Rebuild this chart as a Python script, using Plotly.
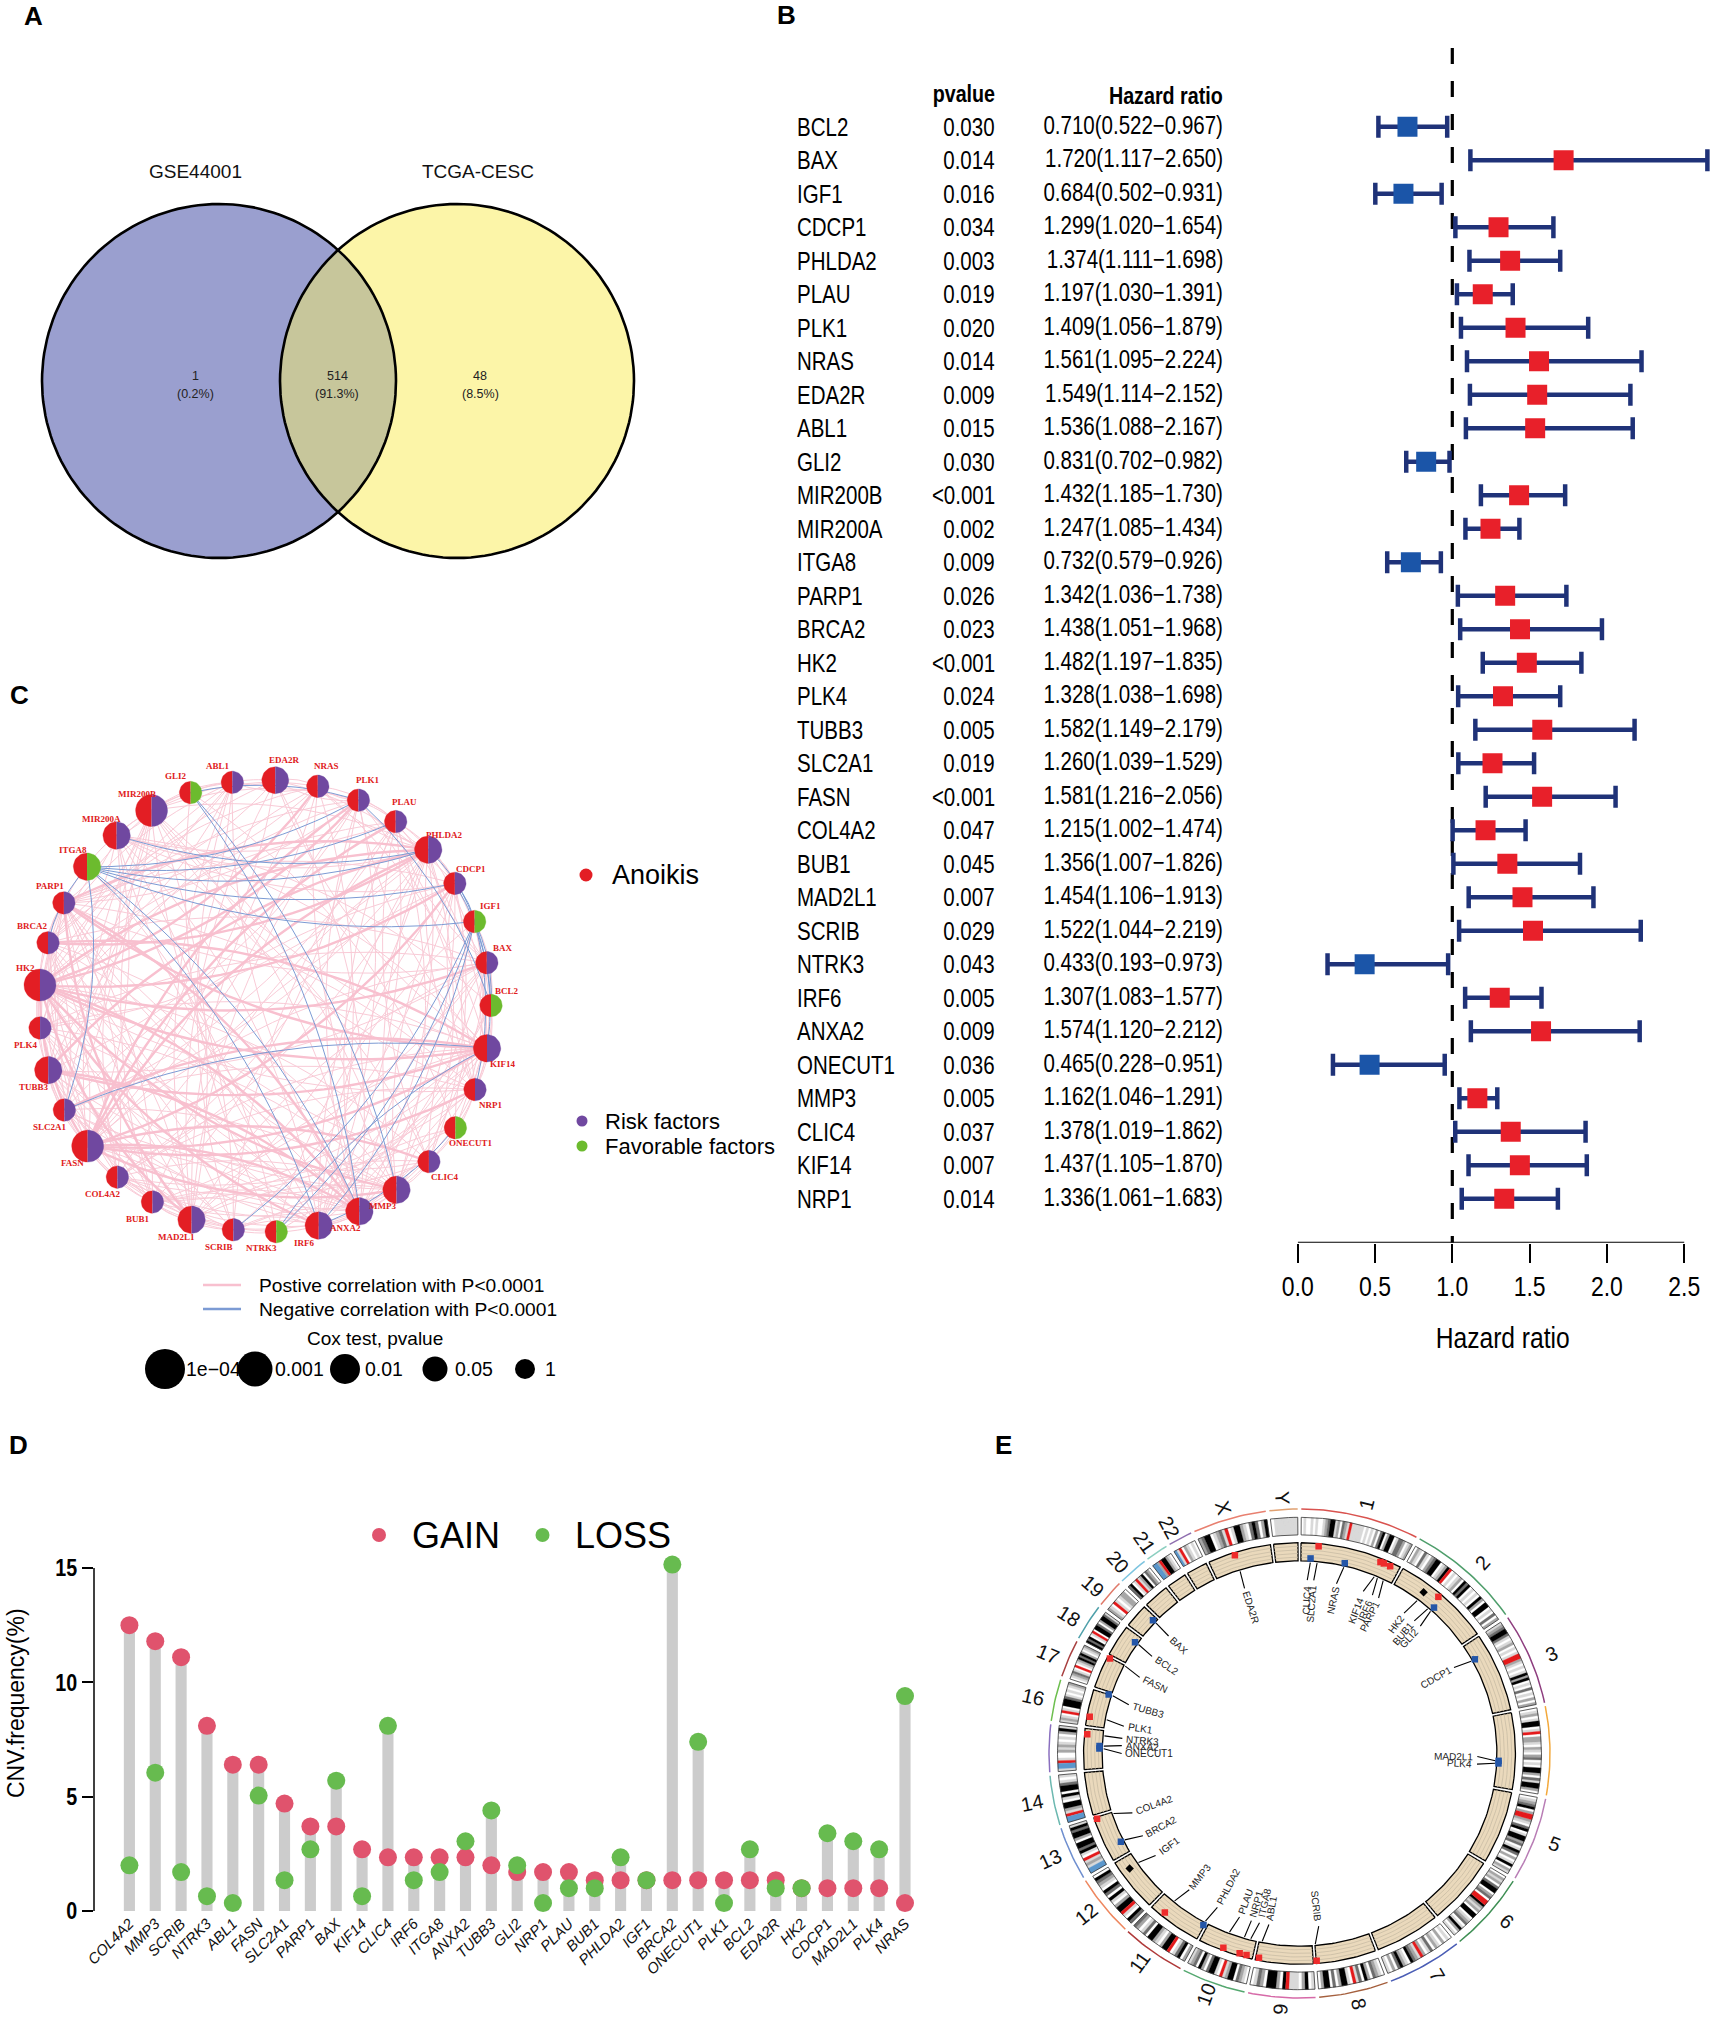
import math
import plotly.graph_objects as go

W, H = 1713, 2018
SANS = "Liberation Sans"
SERIF = "Liberation Serif"

# ---------- Panel A data
VENN_SETS = ["GSE44001", "TCGA-CESC"]
VENN_COUNTS = ["1", "514", "48"]
VENN_PCTS = ["(0.2%)", "(91.3%)", "(8.5%)"]

# ---------- Panel B data
COX_GENES = ["BCL2","BAX","IGF1","CDCP1","PHLDA2","PLAU","PLK1","NRAS","EDA2R","ABL1","GLI2","MIR200B","MIR200A","ITGA8","PARP1","BRCA2","HK2","PLK4","TUBB3","SLC2A1","FASN","COL4A2","BUB1","MAD2L1","SCRIB","NTRK3","IRF6","ANXA2","ONECUT1","MMP3","CLIC4","KIF14","NRP1"]
COX_P = ["0.030","0.014","0.016","0.034","0.003","0.019","0.020","0.014","0.009","0.015","0.030","<0.001","0.002","0.009","0.026","0.023","<0.001","0.024","0.005","0.019","<0.001","0.047","0.045","0.007","0.029","0.043","0.005","0.009","0.036","0.005","0.037","0.007","0.014"]
COX_HR = [0.710,1.720,0.684,1.299,1.374,1.197,1.409,1.561,1.549,1.536,0.831,1.432,1.247,0.732,1.342,1.438,1.482,1.328,1.582,1.260,1.581,1.215,1.356,1.454,1.522,0.433,1.307,1.574,0.465,1.162,1.378,1.437,1.336]
COX_LOW = [0.522,1.117,0.502,1.020,1.111,1.030,1.056,1.095,1.114,1.088,0.702,1.185,1.085,0.579,1.036,1.051,1.197,1.038,1.149,1.039,1.216,1.002,1.007,1.106,1.044,0.193,1.083,1.120,0.228,1.046,1.019,1.105,1.061]
COX_HIGH = [0.967,2.650,0.931,1.654,1.698,1.391,1.879,2.224,2.152,2.167,0.982,1.730,1.434,0.926,1.738,1.968,1.835,1.698,2.179,1.529,2.056,1.474,1.826,1.913,2.219,0.973,1.577,2.212,0.951,1.291,1.862,1.870,1.683]
HR_TICKS = [0.0, 0.5, 1.0, 1.5, 2.0, 2.5]

# ---------- Panel C data
NET_GENES = ["EDA2R","NRAS","PLK1","PLAU","PHLDA2","CDCP1","IGF1","BAX","BCL2","KIF14","NRP1","ONECUT1","CLIC4","MMP3","ANXA2","IRF6","NTRK3","SCRIB","MAD2L1","BUB1","COL4A2","FASN","SLC2A1","TUBB3","PLK4","HK2","BRCA2","PARP1","ITGA8","MIR200A","MIR200B","GLI2","ABL1"]
NET_SIZE = [27,22.5,22.5,22.5,27.5,22.5,22.5,22.5,22.5,27.5,22.5,22.5,22.5,27.5,27.5,27.5,22.5,22.5,27.5,22.5,22.5,32,22.5,27.5,22.5,32,22.5,22.5,27.5,27.5,32,22.5,22.5]
NET_KIND = ["risk","risk","risk","risk","risk","risk","fav","risk","fav","risk","risk","fav","risk","risk","risk","risk","fav","risk","risk","risk","risk","risk","risk","risk","risk","risk","risk","risk","fav","risk","risk","fav","risk"]
LABEL_DX = [18,17,18,17,32,32,31,32,31,32,31,31,32,-27,-27,-28,-29,-28,-29,-29,-29,-29,-28,-28,-28,-28,-30,-28,-27,-29,-29,-29,-28]
LABEL_DY = [-43,-43,-43,-43,-32,-32,-33,-32,-32,34,33,33,33,35,37,37,35,37,37,36,36,36,37,37,36,-36,-37,-36,-36,-36,-36,-36,-36]
PINK_EDGES = {
 0:[1,2,5,9,14,18,21,25,27,30,32],
 1:[2,3,4,9,13,15,18,21,23,25,26,27,30,32],
 2:[3,4,5,9,10,14,15,18,19,21,23,24,25,26,27,30],
 3:[4,5,7,9,12,13,14,15,17,20,21,22,25,29],
 4:[5,7,9,10,12,13,14,15,18,19,20,21,22,23,24,25,26,27,29,30],
 5:[7,9,10,12,13,14,15,17,20,21,22,25,27,29],
 6:[8,10,11,16],
 7:[9,10,12,13,14,15,18,19,21,23,24,25,26,27],
 8:[10,11,16,29],
 9:[10,12,13,14,15,17,18,19,20,21,22,23,24,25,26,27,29,30],
 10:[12,13,14,15,19,20,21,22,25,27,30],
 11:[16,20,31],
 12:[13,14,15,18,20,21,22,25,27,29],
 13:[14,15,18,19,20,21,22,23,24,25,26,27,30],
 14:[15,17,18,19,20,21,22,23,24,25,26,27,29,30,32],
 15:[17,18,19,20,21,23,24,25,26,27,29,30],
 16:[20,28,31],
 17:[18,19,21,23,25,27,29,32],
 18:[19,20,21,22,23,24,25,26,27,30,32],
 19:[20,21,23,24,25,26,27,30],
 20:[21,22,23,25,26,27,30],
 21:[22,23,24,25,26,27,29,30,32],
 22:[23,24,25,26,27,29,32],
 23:[24,25,26,27,30],
 24:[25,26,27,30,32],
 25:[26,27,29,30,32],
 26:[27,30,32],
 27:[29,30,32],
 29:[30,32],
 30:[32],
}
PINK_THICK = [(9,25),(9,21),(9,23),(9,27),(9,26),(4,21),(4,25),(4,27),(4,26),(14,25),(14,21),(14,27),(2,25),(2,21),(1,25),(13,25),(13,21),(15,25),(18,25),(7,25),(5,21),(5,25),(18,27),(21,25),(12,21),(10,21),(3,21),(9,22),(14,23),(4,23)]
BLUE_EDGES = [(4,28),(5,28),(3,28),(6,28),(2,28),(28,15),(28,14),(28,22),(26,28),(31,14),(31,13),(31,2),(4,29),(2,8),(4,6),(5,6),(6,10),(6,9),(6,8),(6,17),(6,16),(6,15),(11,15),(22,9),(16,9),(5,8)]
COX_LEGEND_LABELS = ["1e\u221204","0.001","0.01","0.05","1"]
COX_LEGEND_SIZES = [40,35,30,25,20]

# ---------- Panel D data
CNV_GENES = ["COL4A2","MMP3","SCRIB","NTRK3","ABL1","FASN","SLC2A1","PARP1","BAX","KIF14","CLIC4","IRF6","ITGA8","ANXA2","TUBB3","GLI2","NRP1","PLAU","BUB1","PHLDA2","IGF1","BRCA2","ONECUT1","PLK1","BCL2","EDA2R","HK2","CDCP1","MAD2L1","PLK4","NRAS"]
CNV_GAIN = [12.5,11.8,11.1,8.1,6.4,6.4,4.7,3.7,3.7,2.7,2.35,2.35,2.35,2.35,2.0,1.7,1.7,1.7,1.35,1.35,1.35,1.35,1.35,1.35,1.35,1.35,1.0,1.0,1.0,1.0,0.35]
CNV_LOSS = [2.0,6.05,1.7,0.65,0.35,5.05,1.35,2.7,5.7,0.65,8.1,1.35,1.7,3.05,4.4,2.0,0.35,1.0,1.0,2.35,1.35,15.15,7.4,0.35,2.7,1.0,1.0,3.4,3.05,2.7,9.4]
CNV_TICKS = [0, 5, 10, 15]

# ---------- Panel E data
CHR_NAMES = ["1","2","3","4","5","6","7","8","9","10","11","12","13","14","15","16","17","18","19","20","21","22","X","Y"]
CHR_MB = [249,243,198,191,181,171,159,146,141,135,135,133,115,107,102,90,81,78,59,63,48,51,155,59]
CHR_COLORS = ["#D9534F","#4E9E6B","#8E3E7F","#F3A93C","#B87DB5","#3F8F55","#4A5DB5","#A5603E","#D66AA8","#55A870","#B03A3A","#EE8860","#6F8FCF","#6CB8B0","#8A6FBF","#6DBF4F","#A84040","#4FA0AA","#E07A6A","#7EC5E0","#8CCFC0","#9070B0","#E88070","#E0A070"]
CHR_BANDS = [
 "wlwwlwlwwlmdkklmwdmlrlllllwlwlwmwdkwmkkwlddmwlm",
 "wmlwdlwmdkkwlmkrwlwlmwkdkwlwlwkmwkkwlwdwm",
 "lmdkkdlwlmwlwlrrmlwlwlkmkwlwdwlwmwm",
 "wlmwlkkwlrwmmlwmlwmdwlwkkmwdlkkmw",
 "wlmdkwmrrmlwdkwlkkmdwlkdwmwlkwml",
 "wmlmwdkkwmdwrrkmlmwkkwlmdwlkmwl",
 "wlwmwlmwdlwmrlmdkwlmkdwmwl",
 "wlmdwmkwdlrwlkkmwdwkkmw",
 "lwkmwlllrkwmkkkwmdlw",
 "wlmdwkkmlrwlkkdwmkwdml",
 "mwkdlwrkkmwlmkkwdlwmd",
 "dkwlrkkmwlkwdkwlmdkw",
 "bblmlrwlkdkkwmkkdkl",
 "bbrlmkkwlkwkkdlwl",
 "lbbrlwwmlmlwlwmkl",
 "lmlwrlwkkkdlwlwlm",
 "wlmdlwrwlmkdkmwlm",
 "kdkwlrwkkdwmkkdl",
 "mlwrlwlmmw",
 "dkwlrlmkwdmw",
 "bbmrkkmlw",
 "blrwmlwlw",
 "mdkkwlmdlrwlkkmlwdkdwmk",
 "wlllllll",
]
TAN_GENES = ["CLIC4","SLC2A1","NRAS","KIF14","IRF6","PARP1","HK2","BUB1","GLI2","CDCP1","MAD2L1","PLK4","SCRIB","ABL1","ITGA8","NRP1","PLAU","PHLDA2","MMP3","IGF1","BRCA2","COL4A2","NTRK3","ANXA2","ONECUT1","PLK1","TUBB3","FASN","BCL2","BAX","EDA2R"]
TAN_CHR = ["1","1","1","1","1","1","2","2","2","3","4","4","8","9","10","10","10","11","11","12","13","13","15","15","15","16","16","17","18","19","X"]
TAN_MB = [25,43,115,200,209,226,75,111,121,45,121,128,145,133,15.6,33,75,3,102,102,33,111,88,60,53,23,90,80,60,49,65]
TAN_LEVEL = [0.15,0.85,0.15,0.8,0.8,0.8,0.5,0.8,0.2,0.15,0.1,0.1,0.85,0.85,0.85,0.85,0.85,0.15,0.75,0.5,0.15,0.85,0.85,0.15,0.15,0.85,0.15,0.85,0.15,0.15,0.85]
TAN_KIND = ["b","r","b","r","r","r","k","r","b","b","b","b","r","r","r","r","r","b","r","k","b","r","r","b","b","r","b","r","b","b","r"]
TAN_LABEL_ANGLE = [2.5,4.6,12,21,24.2,26.4,36,40.2,42.8,60.3,91,93.5,173.8,189.9,193,195.7,199.7,207.5,218.3,234,241.7,250,275,272.6,270,279,286.3,296,304,312.6,342]

# ---------- style
RED, PURPLE, GREEN = "#E31E24", "#7048A0", "#6CBB2E"
BAND_COL = {"w":"#FFFFFF","l":"#D9D9D9","m":"#A6A6A6","d":"#6E6E6E","k":"#000000","r":"#E41A1C","b":"#5B97CC"}

fig = go.Figure()
ann = []

def dom(x0, x1, y0, y1):
    return dict(domain=[x0/W, x1/W]), dict(domain=[1-y1/H, 1-y0/H])

hidden = dict(visible=False, showgrid=False, zeroline=False)
layout_axes = {}
layout_axes["xaxis"] = dict(hidden, range=[0, W], domain=[0, 1])
layout_axes["yaxis"] = dict(hidden, range=[H, 0], domain=[0, 1])

def T(x, y, text, size=14, color="black", family=SANS, anchor="center", bold=False, angle=0, xref="x", yref="y", yshift=0, narrow=False):
    f = dict(size=size, color=color, family=family)
    if bold: f["weight"] = "bold"
    a = dict(x=x, y=y, xref=xref, yref=yref, text=text, showarrow=False, font=f,
             xanchor=anchor, yanchor="middle", textangle=angle, yshift=yshift, align="center")
    if narrow: a["name"] = "narrow"
    ann.append(a)

for lab, x, y in [("A",33,16),("B",786,15),("C",19,695),("D",18,1445),("E",1003,1445)]:
    T(x, y, lab, size=26, bold=True)

# ---------- Panel A
dx, dy = dom(0, 660, 190, 590)
layout_axes["xaxis2"] = dict(hidden, range=[0, 660], **dx)
layout_axes["yaxis2"] = dict(hidden, range=[400, 0], **dy)
CX = [219, 457]; CY = 191; R = 177
def circ(cx, a0=0, a1=360, n=160):
    return ([cx+R*math.cos(math.radians(a0+(a1-a0)*i/n)) for i in range(n+1)],
            [CY+R*math.sin(math.radians(a0+(a1-a0)*i/n)) for i in range(n+1)])
for cx, col in zip(CX, ["#9A9FCF", "#FCF5A8"]):
    xs, ys = circ(cx)
    fig.add_trace(go.Scatter(x=xs, y=ys, xaxis="x2", yaxis="y2", mode="lines", fill="toself", fillcolor=col,
                             line=dict(width=0), hoverinfo="skip", showlegend=False))
half = math.degrees(math.acos((CX[1]-CX[0])/2/R))
x1, y1 = circ(CX[0], -half, half, 60)
x2, y2 = circ(CX[1], 180-half, 180+half, 60)
fig.add_trace(go.Scatter(x=x1+x2, y=y1+y2, xaxis="x2", yaxis="y2", mode="lines", fill="toself", fillcolor="#C7C69B",
                         line=dict(width=0), hoverinfo="skip", showlegend=False))
for cx in CX:
    xs, ys = circ(cx)
    fig.add_trace(go.Scatter(x=xs, y=ys, xaxis="x2", yaxis="y2", mode="lines",
                             line=dict(width=2.6, color="black"), hoverinfo="skip", showlegend=False))
for s, x in zip(VENN_SETS, [195, 478]):
    T(x, 171, s, size=19, color="#111")
for n, p, x in zip(VENN_COUNTS, VENN_PCTS, [195, 337, 480]):
    T(x, 376, n, size=12.5, color="#222")
    T(x, 394, p, size=12.5, color="#222")

# ---------- Panel B
fx0, fy0, fpx, frow = 1297.7, 126.7, 154.6, 33.5
xmax = (1712-fx0)/fpx
ytop, ybot = (48-fy0)/frow, (1242.7-fy0)/frow
dx, dy = dom(fx0, 1712, 48, 1242.7)
layout_axes["xaxis3"] = dict(range=[0, xmax], tickmode="array", tickvals=HR_TICKS, ticktext=[f"{v:.1f}" for v in HR_TICKS],
                             ticks="outside", ticklen=19, tickwidth=2, tickcolor="black", showline=False, showgrid=False,
                             zeroline=False, tickfont=dict(family=SANS, size=28, color="black"), anchor="y3", **dx)
layout_axes["yaxis3"] = dict(hidden, range=[ybot, ytop], anchor="x3", **dy)
rows = list(range(len(COX_GENES)))
fig.add_trace(go.Scatter(x=[0, 2.5], y=[ybot, ybot], xaxis="x3", yaxis="y3", mode="lines", cliponaxis=False,
                         line=dict(color="black", width=2), hoverinfo="skip", showlegend=False))
fig.add_trace(go.Scatter(x=[1, 1], y=[ytop, ybot], xaxis="x3", yaxis="y3", mode="lines",
                         line=dict(color="black", width=3.2, dash="16px,17px"), hoverinfo="skip", showlegend=False))
fig.add_trace(go.Scatter(x=COX_HR, y=rows, xaxis="x3", yaxis="y3", mode="markers",
    error_x=dict(type="data", symmetric=False,
                 array=[h-m for h, m in zip(COX_HIGH, COX_HR)],
                 arrayminus=[m-l for m, l in zip(COX_HR, COX_LOW)],
                 color="#1F3278", thickness=4.5, width=11),
    marker=dict(symbol="square", size=20, color=["#E8202A" if v > 1 else "#1B55A8" for v in COX_HR]),
    hoverinfo="skip", showlegend=False))
for i, (g, p, hr, lo, hi) in enumerate(zip(COX_GENES, COX_P, COX_HR, COX_LOW, COX_HIGH)):
    T(795, i, g, size=25, anchor="left", yref="y3", narrow=True)
    T(997, i, p, size=25, anchor="right", yref="y3", narrow=True)
    T(1225, i, f"{hr:.3f}({lo:.3f}\u2212{hi:.3f})", size=25, anchor="right", yref="y3", yshift=2, narrow=True)
T(997, 93, "pvalue", size=24, bold=True, anchor="right", narrow=True)
T(1225, 95, "Hazard ratio", size=24, bold=True, anchor="right", narrow=True)
T(1502, 1337, "Hazard ratio", size=30, narrow=True)

# ---------- Panel C
NCX, NCY, NR = 265, 1006, 226
dx, dy = dom(NCX-265, NCX+265, NCY-265, NCY+265)
layout_axes["xaxis4"] = dict(hidden, range=[-265, 265], **dx)
layout_axes["yaxis4"] = dict(hidden, range=[-265, 265], **dy)
step = 360/len(NET_GENES)
pos = [(NR*math.sin(math.radians(2.6+step*i)), NR*math.cos(math.radians(2.6+step*i))) for i in range(len(NET_GENES))]

def curve(a, b, k, n=24):
    (x0, y0), (x1, y1) = pos[a], pos[b]
    cx = (x0+x1)/2-(y1-y0)*k
    cy = (y0+y1)/2+(x1-x0)*k
    xs, ys = [], []
    for i in range(n+1):
        t = i/n
        xs.append((1-t)**2*x0+2*t*(1-t)*cx+t*t*x1)
        ys.append((1-t)**2*y0+2*t*(1-t)*cy+t*t*y1)
    return xs+[None], ys+[None]

def edge_trace(pairs, color, width):
    X, Y = [], []
    for a, b, k in pairs:
        xs, ys = curve(a, b, k)
        X += xs; Y += ys
    fig.add_trace(go.Scatter(x=X, y=Y, xaxis="x4", yaxis="y4", mode="lines", line=dict(color=color, width=width),
                             hoverinfo="skip", showlegend=False, connectgaps=False))

thick = set(PINK_THICK)
thin_edges, thick_edges = [], []
for a, lst in PINK_EDGES.items():
    for idx, b in enumerate(lst):
        k = 0.16 if (a+idx) % 2 == 0 else -0.16
        (thick_edges if (a, b) in thick else thin_edges).append((a, b, k))
edge_trace(thin_edges, "#F9CBD7", 1.0)
edge_trace(thick_edges, "#F8C0CF", 2.4)
edge_trace([(a, b, 0.13) for a, b in BLUE_EDGES], "#7C9BD4", 1.0)

def half_poly(c, r, left, n=24):
    a0, a1 = (90, 270) if left else (-90, 90)
    return ([c[0]+r*math.cos(math.radians(a0+(a1-a0)*i/n)) for i in range(n+1)]+[None],
            [c[1]+r*math.sin(math.radians(a0+(a1-a0)*i/n)) for i in range(n+1)]+[None])
polys = {RED: ([], []), PURPLE: ([], []), GREEN: ([], [])}
for c, s, kind in zip(pos, NET_SIZE, NET_KIND):
    xs, ys = half_poly(c, s/2, True)
    polys[RED][0].extend(xs); polys[RED][1].extend(ys)
    col = PURPLE if kind == "risk" else GREEN
    xs, ys = half_poly(c, s/2, False)
    polys[col][0].extend(xs); polys[col][1].extend(ys)
for col, (xs, ys) in polys.items():
    fig.add_trace(go.Scatter(x=xs, y=ys, xaxis="x4", yaxis="y4", mode="lines", fill="toself", fillcolor=col,
                             line=dict(width=0.3, color=col), hoverinfo="skip", showlegend=False))
for g, c, ldx, ldy in zip(NET_GENES, pos, LABEL_DX, LABEL_DY):
    T(NCX+c[0]+ldx/1.96, NCY-c[1]+ldy/2.17, g, size=9, color="#E02020", family=SERIF, bold=True)

def dots(xs, ys, sizes, colors):
    fig.add_trace(go.Scatter(x=xs, y=ys, xaxis="x", yaxis="y", mode="markers",
                             marker=dict(size=sizes, color=colors, opacity=1, line=dict(width=0)),
                             hoverinfo="skip", showlegend=False))
dots([586, 582, 582], [875, 1121, 1146], [13, 11, 11], [RED, PURPLE, GREEN])
T(610, 875, "Anoikis", size=27, anchor="left")
T(603, 1121, "Risk factors", size=22, anchor="left")
T(603, 1146, "Favorable factors", size=22, anchor="left")
for y, col, txt in [(1285, "#F8C0CF", "Postive correlation with P<0.0001"), (1309, "#7C9BD4", "Negative correlation with P<0.0001")]:
    fig.add_trace(go.Scatter(x=[203, 241], y=[y, y], xaxis="x", yaxis="y", mode="lines", line=dict(color=col, width=2.6),
                             hoverinfo="skip", showlegend=False))
    T(257, y, txt, size=19.2, anchor="left")
T(375, 1338, "Cox test, pvalue", size=19)
cox_x = [165, 255, 345, 435, 525]
cox_label_x = [184, 273, 363, 453, 543]
dots(cox_x, [1369]*5, COX_LEGEND_SIZES, ["black"]*5)
for x, lab in zip(cox_label_x, COX_LEGEND_LABELS):
    T(x, 1369, lab, size=19.5, anchor="left")

# ---------- Panel D
cnv_step = 25.85
cy15, cy0 = 1568, 1911
ymax = 15.7
dx, dy = dom(94, 921, cy0-(cy0-cy15)*ymax/15, cy0)
layout_axes["xaxis5"] = dict(type="category", categoryorder="array", categoryarray=CNV_GENES,
                             range=[-(129.4-94)/cnv_step, 30+16/cnv_step], tickangle=-45, ticks="", showline=False,
                             showgrid=False, zeroline=False, anchor="y5",
                             tickfont=dict(family=SANS, size=15, style="italic", color="#111"), tickmode="array",
                             tickvals=CNV_GENES, ticktext=CNV_GENES, **dx)
layout_axes["yaxis5"] = dict(range=[0, ymax], tickmode="array", tickvals=CNV_TICKS,
                             ticktext=[f"<b>{v}</b>" for v in CNV_TICKS], ticks="outside", ticklen=11, tickwidth=1.5,
                             tickcolor="black", showline=False, showgrid=False,
                             zeroline=False, anchor="x5",
                             tickfont=dict(family=SANS, size=24, color="black"), **dy)
cnv_axis_line = dict(type="line", xref="x", yref="y", x0=94, x1=94, y0=cy15, y1=cy0, layer="above",
                     line=dict(color="black", width=1.5))
fig.add_trace(go.Bar(x=CNV_GENES, y=[max(a, b) for a, b in zip(CNV_GAIN, CNV_LOSS)], xaxis="x5", yaxis="y5",
                     width=0.43, marker=dict(color="#CCCCCC", line=dict(width=0)), hoverinfo="skip", showlegend=False))
for vals, col in [(CNV_GAIN, "#E0536D"), (CNV_LOSS, "#67BB4F")]:
    fig.add_trace(go.Scatter(x=CNV_GENES, y=vals, xaxis="x5", yaxis="y5", mode="markers", cliponaxis=False,
                             marker=dict(size=18, color=col), hoverinfo="skip", showlegend=False))
dots([379, 542.5], [1535, 1535], [14, 14], ["#E0536D", "#67BB4F"])
T(456, 1535, "GAIN", size=36)
T(623, 1535, "LOSS", size=36)
T(16, 1703, "CNV.frequency(%)", size=23, angle=-90)

# ---------- Panel E
ECX, ECY, ERX, ERY, SPAN = 1299.5, 1753.5, 250.5, 244.5, 1.08
dx, dy = dom(ECX-ERX*SPAN, ECX+ERX*SPAN, ECY-ERY*SPAN, ECY+ERY*SPAN)
layout_axes["xaxis6"] = dict(hidden, range=[-SPAN, SPAN], **dx)
layout_axes["yaxis6"] = dict(hidden, range=[-SPAN, SPAN], **dy)
GAP = 0.83
k_mb = (360-GAP*len(CHR_MB))/sum(CHR_MB)
chr_start = {}
acc = GAP/2
for name, mb in zip(CHR_NAMES, CHR_MB):
    chr_start[name] = acc
    acc += mb*k_mb+GAP

def pol(r, a):
    return r*math.sin(math.radians(a)), r*math.cos(math.radians(a))
def sector(r0, r1, a0, a1, stepdeg=1.0):
    n = max(1, int(abs(a1-a0)/stepdeg))
    out = [pol(r1, a0+(a1-a0)*i/n) for i in range(n+1)]
    inn = [pol(r0, a1-(a1-a0)*i/n) for i in range(n+1)]
    pts = out+inn+[out[0]]
    return [p[0] for p in pts]+[None], [p[1] for p in pts]+[None]

RI0, RI1, RT0, RT1 = 0.894, 0.966, 0.788, 0.862
band_xy = {c: ([], []) for c in BAND_COL}
outline_x, outline_y, tan_x, tan_y = [], [], [], []
for name, mb, bands in zip(CHR_NAMES, CHR_MB, CHR_BANDS):
    a0 = chr_start[name]; a1 = a0+mb*k_mb
    w = (a1-a0)/len(bands)
    for i, ch in enumerate(bands):
        xs, ys = sector(RI0, RI1, a0+i*w, a0+(i+1)*w)
        band_xy[ch][0].extend(xs); band_xy[ch][1].extend(ys)
    xs, ys = sector(RI0, RI1, a0, a1)
    outline_x += xs; outline_y += ys
    xs, ys = sector(RT0, RT1, a0, a1)
    tan_x += xs; tan_y += ys
for ch, (xs, ys) in band_xy.items():
    fig.add_trace(go.Scatter(x=xs, y=ys, xaxis="x6", yaxis="y6", mode="lines", fill="toself", fillcolor=BAND_COL[ch],
                             line=dict(width=0.3, color=BAND_COL[ch]), hoverinfo="skip", showlegend=False))
fig.add_trace(go.Scatter(x=outline_x, y=outline_y, xaxis="x6", yaxis="y6", mode="lines",
                         line=dict(width=0.8, color="#333"), hoverinfo="skip", showlegend=False))
fig.add_trace(go.Scatter(x=tan_x, y=tan_y, xaxis="x6", yaxis="y6", mode="lines", fill="toself", fillcolor="#EAD9BC",
                         line=dict(width=1.3, color="black"), hoverinfo="skip", showlegend=False))
gx, gy = [], []
for name, mb in zip(CHR_NAMES, CHR_MB):
    a0 = chr_start[name]; a1 = a0+mb*k_mb
    n = max(2, int((a1-a0)))
    for f in (0.2, 0.4, 0.6, 0.8):
        r = RT0+(RT1-RT0)*f
        pts = [pol(r, a0+(a1-a0)*i/n) for i in range(n+1)]
        gx += [p[0] for p in pts]+[None]; gy += [p[1] for p in pts]+[None]
fig.add_trace(go.Scatter(x=gx, y=gy, xaxis="x6", yaxis="y6", mode="lines", line=dict(width=0.8, color="#C9BDA4"),
                         hoverinfo="skip", showlegend=False))
for name, mb, col in zip(CHR_NAMES, CHR_MB, CHR_COLORS):
    a0 = chr_start[name]; a1 = a0+mb*k_mb
    n = max(2, int(a1-a0))
    pts = [pol(1.0, a0+(a1-a0)*i/n) for i in range(n+1)]
    fig.add_trace(go.Scatter(x=[p[0] for p in pts], y=[p[1] for p in pts], xaxis="x6", yaxis="y6", mode="lines",
                             line=dict(width=1.5, color=col), hoverinfo="skip", showlegend=False))
    am = (a0+a1)/2
    x, y = pol(1.0, am)
    T(x*1.09, y*1.05, name, size=20, color="#111", angle=(am-90 if am <= 180 else am-270), xref="x6", yref="y6")
mx, my, mc = [], [], []
LX, LY = [], []
kind_col = {"r": "#EE2B2B", "b": "#2456A8", "k": "black"}
kind_sym = {"r": "square", "b": "square", "k": "diamond"}
for g, ch, mb, lev, kind, la in zip(TAN_GENES, TAN_CHR, TAN_MB, TAN_LEVEL, TAN_KIND, TAN_LABEL_ANGLE):
    a = chr_start[ch]+mb*k_mb
    x, y = pol(RT0+(RT1-RT0)*lev, a)
    mx.append(x); my.append(y); mc.append(kind)
    p0 = pol(0.782, a); p1 = pol(0.71, la)
    LX += [p0[0], p1[0], None]; LY += [p0[1], p1[1], None]
    tw = 0.66*10*len(g)/245
    x, y = pol(0.695-tw/2, la)
    T(x, y, g, size=10, color="#222", angle=(la-90 if la <= 180 else la-270), xref="x6", yref="y6")
fig.add_trace(go.Scatter(x=LX, y=LY, xaxis="x6", yaxis="y6", mode="lines", line=dict(width=1.1, color="black"),
                         hoverinfo="skip", showlegend=False))
fig.add_trace(go.Scatter(x=mx, y=my, xaxis="x6", yaxis="y6", mode="markers",
                         marker=dict(size=6.5, color=[kind_col[k] for k in mc], symbol=[kind_sym[k] for k in mc]),
                         hoverinfo="skip", showlegend=False))

fig.update_layout(width=W, height=H, margin=dict(l=0, r=0, t=0, b=0, autoexpand=False), autosize=False,
                  paper_bgcolor="white", plot_bgcolor="rgba(0,0,0,0)", showlegend=False,
                  annotations=ann, shapes=[cnv_axis_line], **layout_axes)

SQUEEZE_JS = """
document.body.style.margin='0';
document.body.style.overflow='hidden';
var gd=document.querySelector('.plotly-graph-div');
function squeeze(t,f){var w=t.getComputedTextLength();t.setAttribute('textLength',w*f);t.setAttribute('lengthAdjust','spacingAndGlyphs');return w*(1-f);}
document.querySelectorAll('.annotation').forEach(function(el){
  var a=gd.layout.annotations[+el.getAttribute('data-index')];
  if(!a||a.name!=='narrow')return;
  var t=el.querySelector('text');
  var d=squeeze(t,0.82);
  var x=parseFloat(t.getAttribute('x'));
  if(a.xanchor==='right')t.setAttribute('x',x+d/2);
  if(a.xanchor==='left')t.setAttribute('x',x-d/2);
});
document.querySelectorAll('.x3tick text, .y5tick text').forEach(function(t){squeeze(t,0.82);});
"""
fig.write_html("out.html", post_script=SQUEEZE_JS, config=dict(displayModeBar=False))
